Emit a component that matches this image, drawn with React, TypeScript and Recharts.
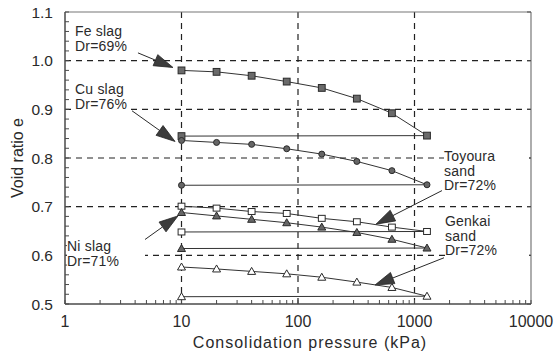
import React from 'react';
import { ScatterChart, Scatter, XAxis, YAxis, CartesianGrid, ReferenceLine, Label } from 'recharts';

// ---- data ----
const pressures = [10, 20, 40, 80, 160, 320, 640, 1280];
const unloadStart = 10;

const feSlag = [0.980, 0.977, 0.969, 0.957, 0.944, 0.922, 0.892, 0.846];
const feSlagUnload = 0.845;
const cuSlag = [0.836, 0.832, 0.828, 0.819, 0.808, 0.793, 0.774, 0.745];
const cuSlagUnload = 0.744;
const toyoura = [0.701, 0.697, 0.690, 0.686, 0.676, 0.669, 0.658, 0.649];
const toyouraUnload = 0.648;
const niSlag = [0.688, 0.681, 0.674, 0.667, 0.658, 0.647, 0.633, 0.615];
const niSlagUnload = 0.614;
const genkai = [0.576, 0.572, 0.567, 0.562, 0.555, 0.545, 0.534, 0.516];
const genkaiUnload = 0.515;

const xMajorTicks = [1, 10, 100, 1000, 10000];
const xMinorMult = [2, 3, 4, 5, 6, 7, 8, 9];
const yMajorTicks = [0.5, 0.6, 0.7, 0.8, 0.9, 1.0, 1.1];
const yMinorStep = 0.02;
const gridX = [10, 100, 1000];
const gridY = [0.6, 0.7, 0.8, 0.9, 1.0];

// annotation arrows: [tailX, tailY, tipX, tipY] in data units
const arrows = [
  [4.23, 1.016, 8.45, 0.986],
  [3.76, 0.897, 8.8, 0.834],
  [3.84, 0.615, 9.33, 0.681],
  [1722, 0.733, 467, 0.664],
  [1792, 0.595, 458, 0.539],
];

const annotations = [
  { lines: ['Fe slag', 'Dr=69%'], left: 75, top: 24, width: 56 },
  { lines: ['Cu slag', 'Dr=76%'], left: 75, top: 82, width: 56 },
  { lines: ['Ni slag', 'Dr=71%'], left: 67, top: 239, width: 78 },
  { lines: ['Toyoura', 'sand', 'Dr=72%'], left: 444, top: 149, width: 85 },
  { lines: ['Genkai', 'sand', 'Dr=72%'], left: 445, top: 214, width: 84 },
];

// ---- derived ----
const build = (vals: number[], unload: number) => [
  ...pressures.map((p, i) => ({ x: p, y: vals[i] })),
  { x: unloadStart, y: unload },
];

const xTicks: number[] = [];
for (let d = 0; d < 4; d++) {
  const base = Math.pow(10, d);
  xTicks.push(base);
  xMinorMult.forEach((m) => xTicks.push(m * base));
}
xTicks.push(10000);

const yTicks: number[] = [];
for (let i = 0; i <= 30; i++) yTicks.push(Math.round((0.5 + i * yMinorStep) * 1000) / 1000);

const isYMajor = (v: number) => yMajorTicks.some((m) => Math.abs(m - v) < 1e-6);

const INK = '#2a2a2a';
const AXIS = '#4a4a4a';
const FONT = 'Liberation Sans, Arial, sans-serif';

const XTick = (props: any) => {
  const { x, y, payload } = props;
  const v = payload.value;
  const major = xMajorTicks.includes(v);
  return (
    <g>
      <line x1={x} x2={x} y1={y} y2={y - 4} stroke={AXIS} strokeWidth={1} />
      {major && (
        <text x={x} y={y + 23} textAnchor="middle" fontSize={16} fill={INK} fontFamily={FONT}>
          {v}
        </text>
      )}
    </g>
  );
};

const YTick = (props: any) => {
  const { x, y, payload } = props;
  const v = payload.value;
  const major = isYMajor(v);
  return (
    <g>
      <line x1={x} x2={x + 4} y1={y} y2={y} stroke={AXIS} strokeWidth={1} />
      {major && (
        <text x={x - 12} y={y + 5.5} textAnchor="end" fontSize={15.5} fill={INK} fontFamily={FONT}>
          {v.toFixed(1)}
        </text>
      )}
    </g>
  );
};

const YTickRight = (props: any) => {
  const { x, y } = props;
  return <line x1={x} x2={x - 4} y1={y} y2={y} stroke={AXIS} strokeWidth={1} />;
};

const makeMarker = (kind: string) => (props: any) => {
  const { cx, cy } = props;
  if (cx == null || cy == null) return <g />;
  const s = 3.4;
  switch (kind) {
    case 'fsq':
      return <rect x={cx - s} y={cy - s} width={2 * s} height={2 * s} fill="#6a6a6a" stroke={INK} strokeWidth={1} />;
    case 'osq':
      return <rect x={cx - s} y={cy - 3} width={2 * s} height={6} fill="#fff" stroke={INK} strokeWidth={1} />;
    case 'fci':
      return <circle cx={cx} cy={cy} r={3} fill="#666" stroke={INK} strokeWidth={1} />;
    case 'ftr':
      return (
        <polygon
          points={`${cx},${cy - 4} ${cx - 4},${cy + 3} ${cx + 4},${cy + 3}`}
          fill="#666"
          stroke={INK}
          strokeWidth={1}
        />
      );
    default:
      return (
        <polygon
          points={`${cx},${cy - 4} ${cx - 4},${cy + 3} ${cx + 4},${cy + 3}`}
          fill="#fff"
          stroke={INK}
          strokeWidth={1}
        />
      );
  }
};

const ArrowShape = (props: any) => {
  const { x1, y1, x2, y2 } = props;
  if ([x1, y1, x2, y2].some((v) => v == null || isNaN(v))) return <g />;
  const dx = x2 - x1;
  const dy = y2 - y1;
  const len = Math.sqrt(dx * dx + dy * dy) || 1;
  const ux = dx / len;
  const uy = dy / len;
  const hl = 19;
  const hw = 6;
  const bx = x2 - ux * hl;
  const by = y2 - uy * hl;
  const px = -uy;
  const py = ux;
  return (
    <g>
      <line x1={x1} y1={y1} x2={bx} y2={by} stroke={INK} strokeWidth={1} />
      <polygon
        points={`${x2},${y2} ${bx + px * hw},${by + py * hw} ${bx - px * hw},${by - py * hw}`}
        fill="#3c3c3c"
        stroke="#222"
        strokeWidth={0.8}
      />
    </g>
  );
};

const series = [
  { name: 'Fe slag', data: build(feSlag, feSlagUnload), kind: 'fsq' },
  { name: 'Cu slag', data: build(cuSlag, cuSlagUnload), kind: 'fci' },
  { name: 'Toyoura sand', data: build(toyoura, toyouraUnload), kind: 'osq' },
  { name: 'Ni slag', data: build(niSlag, niSlagUnload), kind: 'ftr' },
  { name: 'Genkai sand', data: build(genkai, genkaiUnload), kind: 'otr' },
];

export default function App() {
  return (
    <div style={{ position: 'absolute', left: 0, top: 0, width: 557, height: 355, background: '#fff' }}>
      <ScatterChart width={557} height={355} margin={{ top: 0, right: 0, bottom: 0, left: 0 }}>
        <XAxis
          xAxisId="t"
          orientation="top"
          type="number"
          scale="log"
          domain={[1, 10000]}
          allowDataOverflow
          tick={false}
          tickLine={false}
          height={12}
          axisLine={{ stroke: '#777', strokeWidth: 1.2 }}
        />
        <YAxis
          yAxisId="r"
          orientation="right"
          type="number"
          domain={[0.5, 1.1]}
          allowDataOverflow
          ticks={yMajorTicks}
          interval={0}
          tickSize={0}
          tickMargin={0}
          tickLine={false}
          tick={(p: any) => <YTickRight {...p} />}
          width={26}
          axisLine={{ stroke: '#777', strokeWidth: 1.2 }}
        />
        <XAxis
          xAxisId="b"
          dataKey="x"
          type="number"
          scale="log"
          domain={[1, 10000]}
          allowDataOverflow
          ticks={xTicks}
          interval={0}
          tickSize={0}
          tickMargin={0}
          tickLine={false}
          tick={(p: any) => <XTick {...p} />}
          height={51}
          axisLine={{ stroke: AXIS, strokeWidth: 1.5 }}
        >
          <Label
            content={() => (
              <text
                x={310}
                y={348}
                textAnchor="middle"
                fontSize={16}
                letterSpacing={1}
                fill={INK}
                fontFamily={FONT}
              >
                Consolidation pressure (kPa)
              </text>
            )}
          />
        </XAxis>
        <YAxis
          yAxisId="l"
          dataKey="y"
          type="number"
          domain={[0.5, 1.1]}
          allowDataOverflow
          ticks={yTicks}
          interval={0}
          tickSize={0}
          tickMargin={0}
          tickLine={false}
          tick={(p: any) => <YTick {...p} />}
          width={65}
          axisLine={{ stroke: AXIS, strokeWidth: 1.5 }}
        >
          <Label
            content={() => (
              <text
                x={0}
                y={0}
                transform="translate(23,158) rotate(-90)"
                textAnchor="middle"
                fontSize={16}
                fill={INK}
                fontFamily={FONT}
              >
                Void ratio e
              </text>
            )}
          />
        </YAxis>
        <CartesianGrid
          xAxisId="b"
          yAxisId="l"
          horizontalValues={gridY}
          verticalValues={gridX}
          stroke="#222"
          strokeWidth={1.2}
          strokeDasharray="6 5"
        />
        {series.map((s) => (
          <Scatter
            key={s.name}
            name={s.name}
            xAxisId="b"
            yAxisId="l"
            data={s.data}
            line={{ stroke: '#333', strokeWidth: 1 }}
            shape={makeMarker(s.kind)}
            isAnimationActive={false}
          />
        ))}
        {arrows.map((a, i) => (
          <ReferenceLine
            key={i}
            xAxisId="b"
            yAxisId="l"
            segment={[
              { x: a[0], y: a[1] },
              { x: a[2], y: a[3] },
            ]}
            ifOverflow="visible"
            shape={(p: any) => <ArrowShape {...p} />}
          />
        ))}
      </ScatterChart>
      {annotations.map((a, i) => (
        <div
          key={i}
          style={{
            position: 'absolute',
            left: a.left,
            top: a.top,
            width: a.width,
            background: '#fff',
            fontFamily: FONT,
            fontSize: 14,
            lineHeight: '14.5px',
            color: INK,
            letterSpacing: 0.2,
            whiteSpace: 'nowrap',
          }}
        >
          {a.lines.map((l, j) => (
            <div key={j}>{l}</div>
          ))}
        </div>
      ))}
    </div>
  );
}
